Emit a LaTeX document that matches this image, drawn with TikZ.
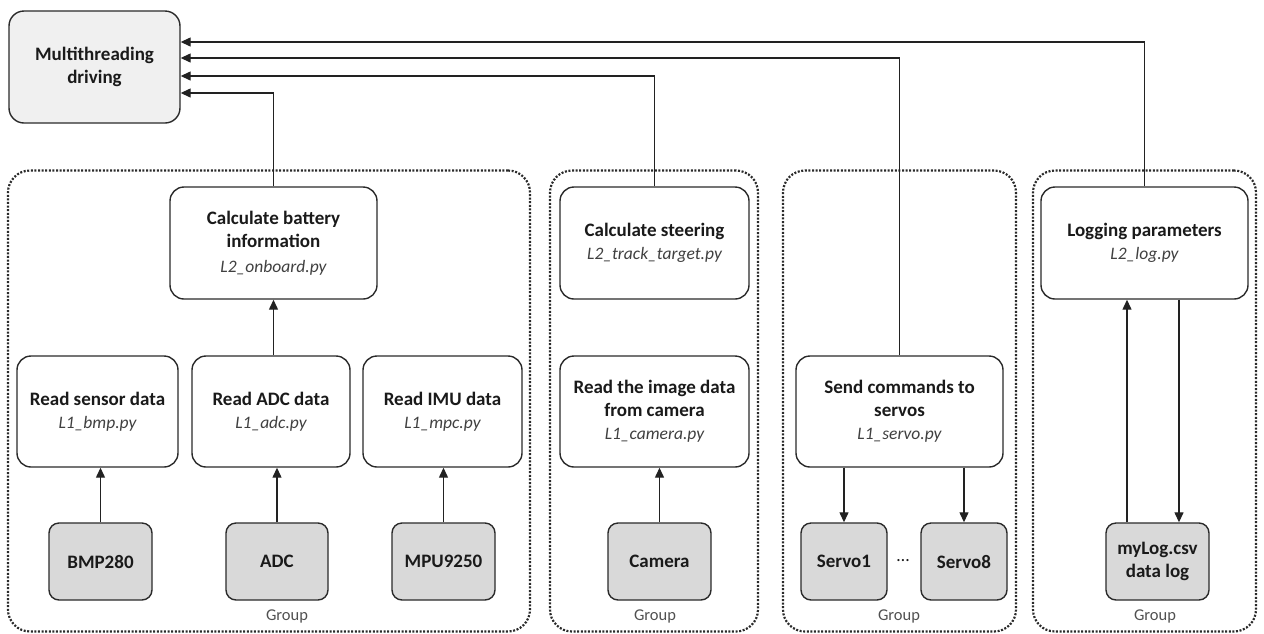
\documentclass[tikz,border=0pt]{standalone}
\usepackage{fontspec}
\setmainfont{Carlito}
\usetikzlibrary{arrows.meta,calc}
\definecolor{linec}{HTML}{2A2A2A}
\definecolor{arrc}{HTML}{222222}
\definecolor{hwfill}{HTML}{D9D9D9}
\definecolor{mtfill}{HTML}{F0F0F0}
\definecolor{txt}{HTML}{1A1A1A}
\definecolor{itxt}{HTML}{404040}
\definecolor{gtxt}{HTML}{505050}
\newcommand\fname[1]{{\mdseries\itshape\color{itxt}\fontsize{17.5}{23}\selectfont #1}}
\begin{document}
\begin{tikzpicture}[x=1pt,y=-1pt,
  proc/.style={draw=linec, line width=1.4pt, rounded corners=14pt, fill=white,
    align=center, inner sep=0pt, text=txt, font=\fontsize{19}{23}\selectfont\bfseries},
  hw/.style={draw=linec, line width=1.4pt, rounded corners=10pt, fill=hwfill,
    align=center, inner sep=0pt, text=txt, minimum height=77pt,
    font=\fontsize{19}{23}\selectfont\bfseries},
  grp/.style={draw=linec, line width=2.2pt, dash pattern=on 2pt off 1.6pt,
    rounded corners=22pt, inner sep=0pt},
  grplabel/.style={text=gtxt, font=\fontsize{16.5}{19}\selectfont, inner sep=0pt},
  arr/.style={draw=arrc, line width=1.3pt, -{Triangle[length=10pt,width=9pt]}}
]
\useasboundingbox (0,0) rectangle (1264,633);

% groups
\node[grp, minimum width=522pt, minimum height=461pt] (g1) at (269,401) {};
\node[grp, minimum width=208pt, minimum height=461pt] (g2) at (654,401) {};
\node[grp, minimum width=233pt, minimum height=461pt] (g3) at (899.5,401) {};
\node[grp, minimum width=223pt, minimum height=461pt] (g4) at (1144.5,401) {};

% main box
\node[proc, fill=mtfill, rounded corners=15pt, minimum width=171pt, minimum height=112pt] (mt) at (94.5,67) {Multithreading\\driving};

% upper process boxes
\node[proc, minimum width=207pt, minimum height=112pt] (battery) at (273.5,243) {Calculate battery\\information\\[2pt]\fname{L2\_onboard.py}};
\node[proc, minimum width=189pt, minimum height=112pt] (steer) at (654.5,243) {Calculate steering\\\fname{L2\_track\_target.py}};
\node[proc, minimum width=207pt, minimum height=112pt] (logp) at (1144.5,243) {Logging parameters\\\fname{L2\_log.py}};

% lower process boxes
\node[proc, minimum width=161pt, minimum height=111pt] (rsens) at (97.5,411.5) {Read sensor data\\\fname{L1\_bmp.py}};
\node[proc, minimum width=158pt, minimum height=111pt] (radc) at (271,411.5) {Read ADC data\\\fname{L1\_adc.py}};
\node[proc, minimum width=159pt, minimum height=111pt] (rimu) at (442.5,411.5) {Read IMU data\\\fname{L1\_mpc.py}};
\node[proc, minimum width=189pt, minimum height=111pt] (rimg) at (654.5,411.5) {Read the image data\\from camera\\\fname{L1\_camera.py}};
\node[proc, minimum width=207pt, minimum height=111pt] (send) at (899.5,411.5) {Send commands to\\servos\\\fname{L1\_servo.py}};

% hardware boxes
\node[hw, minimum width=103pt] (bmp) at (100.5,561.5) {BMP280};
\node[hw, minimum width=102pt] (adchw) at (277,561.5) {ADC};
\node[hw, minimum width=103pt] (mpu) at (443.5,561.5) {MPU9250};
\node[hw, minimum width=103pt] (cam) at (659.5,561.5) {Camera};
\node[hw, minimum width=86pt] (servo1) at (844,561.5) {Servo1};
\node[hw, minimum width=86pt] (servo8) at (964,561.5) {Servo8};
\node[hw, minimum width=103pt] (mylog) at (1157.5,561.5) {myLog.csv\\data log};
\node[text=txt, font=\fontsize{18}{19}\selectfont, inner sep=0pt] (dots) at (903,561) {\dots};

% group labels
\node[grplabel] (gl1) at (287,616) {Group};
\node[grplabel] (gl2) at (655,616) {Group};
\node[grplabel] (gl3) at (899,616) {Group};
\node[grplabel] (gl4) at (1155,616) {Group};

% connectors inside groups
\draw[arr] (bmp.north) -- (bmp.north |- rsens.south);
\draw[arr] (adchw.north) -- (adchw.north |- radc.south);
\draw[arr] (mpu.north) -- (mpu.north |- rimu.south);
\draw[arr] (battery.south |- radc.north) -- (battery.south);
\draw[arr] (cam.north) -- (cam.north |- rimg.south);
\draw[arr] (send.south -| servo1.north) -- (servo1.north);
\draw[arr] (send.south -| servo8.north) -- (servo8.north);
\coordinate (lu) at (1127,0);
\coordinate (ld) at (1179,0);
\draw[arr] (lu |- mylog.north) -- (lu |- logp.south);
\draw[arr] (ld |- logp.south) -- (ld |- mylog.north);

% connectors to main box
\draw[arr] (battery.north) |- ($(mt.east)+(0,26)$);
\draw[arr] (steer.north) |- ($(mt.east)+(0,9)$);
\draw[arr] (send.north) |- ($(mt.east)+(0,-9)$);
\draw[arr] (logp.north) |- ($(mt.east)+(0,-25)$);
\end{tikzpicture}
\end{document}
